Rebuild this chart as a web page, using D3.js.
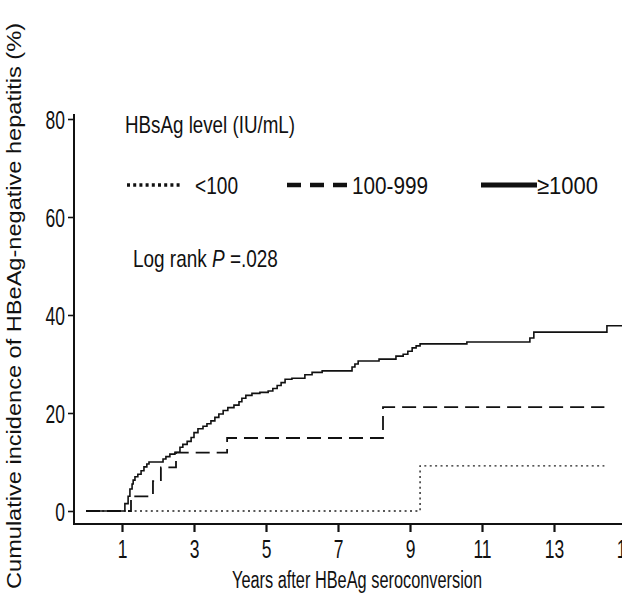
<!DOCTYPE html>
<html>
<head>
<meta charset="utf-8">
<script src="https://cdn.jsdelivr.net/npm/d3@7"></script>
<style>
  html, body { margin: 0; padding: 0; background: #fff; }
  svg { display: block; }
  text { font-family: "Liberation Sans", Arial, Helvetica, sans-serif; fill: #111; }
</style>
</head>
<body>
<svg id="chart" width="622" height="593"></svg>
<script>
// Kaplan-Meier style cumulative incidence, by HBsAg level group
const groupLabels = ["<100", "100-999", "\u22651000"];

// <100 IU/mL
const lowTimes = [0, 9.28];
const lowValues = [0, 9.2];
const lowEnd = 14.4;

// 100-999 IU/mL
const midTimes = [0, 1.25, 1.86, 2.08, 2.5, 3.92, 8.25];
const midValues = [0, 3.0, 6.1, 8.9, 11.9, 14.9, 21.2];
const midEnd = 14.4;

// >=1000 IU/mL
const highTimes = [0, 1.08, 1.17, 1.22, 1.28, 1.31, 1.36, 1.44, 1.53, 1.61, 1.69, 1.75,
  2.14, 2.22, 2.33, 2.47, 2.61, 2.69, 2.81, 2.92, 3.0, 3.11, 3.25, 3.36, 3.47, 3.58, 3.69,
  3.81, 3.94, 4.11, 4.25, 4.33, 4.44, 4.61, 4.83, 5.06, 5.19, 5.31, 5.42, 5.53, 5.72, 6.08,
  6.28, 6.56, 7.39, 7.47, 7.56, 8.14, 8.61, 8.81, 8.94, 9.06, 9.17, 9.28, 10.58, 12.33,
  12.44, 14.47];
const highValues = [0, 1.5, 3.0, 4.5, 5.5, 6.3, 7.0, 7.5, 8.2, 9.0, 9.6, 10.0,
  10.6, 11.1, 11.6, 12.0, 13.0, 13.6, 14.2, 15.0, 16.0, 16.8, 17.3, 17.8, 18.4, 19.1, 19.8,
  20.5, 21.1, 21.6, 22.3, 23.0, 23.6, 24.0, 24.2, 24.5, 25.0, 25.6, 26.2, 26.9, 27.1, 27.8,
  28.3, 28.6, 29.4, 30.0, 30.6, 31.0, 31.6, 32.0, 32.6, 33.3, 33.7, 34.1, 34.5, 35.3,
  36.5, 37.8];
const highEnd = 15.0;

const xTicks = [1, 3, 5, 7, 9, 11, 13, 15];
const yTicks = [0, 20, 40, 60, 80];

const svg = d3.select("#chart");

const x = d3.scaleLinear().domain([0, 15]).range([86, 626]);
const y = d3.scaleLinear().domain([0, 80]).range([511, 119]);

const axisX = 74, axisY = 524;
const narrow = 0.7;

// axis lines
svg.append("path")
  .attr("d", `M${axisX},114 V${axisY} H640`)
  .attr("fill", "none").attr("stroke", "#111").attr("stroke-width", 2);

// y axis ticks and labels
const gy = svg.append("g").attr("transform", `translate(${axisX},0)`)
  .call(d3.axisLeft(y).tickValues(yTicks).tickSize(6).tickFormat(d3.format("d")));
gy.select(".domain").remove();
gy.selectAll(".tick line").attr("stroke", "#111").attr("stroke-width", 1.6);
gy.selectAll(".tick text")
  .attr("font-family", null).attr("font-size", 25)
  .attr("x", -9 / narrow).attr("dy", "0.36em")
  .attr("transform", `scale(${narrow},1)`);

// x axis ticks and labels
const gx = svg.append("g").attr("transform", `translate(0,${axisY})`)
  .call(d3.axisBottom(x).tickValues(xTicks).tickSize(8).tickFormat(d3.format("d")));
gx.select(".domain").remove();
gx.selectAll(".tick line").attr("stroke", "#111").attr("stroke-width", 2.2);
gx.selectAll(".tick text")
  .attr("font-family", null).attr("font-size", 25)
  .attr("y", 34).attr("dy", 0)
  .attr("transform", `scale(${narrow},1)`);

// axis titles
svg.append("text")
  .attr("x", 357).attr("y", 588)
  .attr("text-anchor", "middle").attr("font-size", 23)
  .attr("textLength", 250).attr("lengthAdjust", "spacingAndGlyphs")
  .text("Years after HBeAg seroconversion");

svg.append("text")
  .attr("transform", "translate(21,306) rotate(-90)")
  .attr("text-anchor", "middle").attr("font-size", 20)
  .attr("textLength", 566).attr("lengthAdjust", "spacingAndGlyphs")
  .text("Cumulative incidence of HBeAg-negative hepatitis (%)");

// step curves
const line = d3.line()
  .x(d => x(d[0])).y(d => y(d[1]))
  .curve(d3.curveStepAfter);

function steps(times, values, end) {
  const pts = times.map((t, i) => [t, values[i]]);
  pts.push([end, values[values.length - 1]]);
  return pts;
}

svg.append("path")
  .attr("d", line(steps(lowTimes, lowValues, lowEnd)))
  .attr("fill", "none").attr("stroke", "#222").attr("stroke-width", 1.4)
  .attr("stroke-dasharray", "2,3.4");

svg.append("path")
  .attr("d", line(steps(midTimes, midValues, midEnd)))
  .attr("fill", "none").attr("stroke", "#111").attr("stroke-width", 1.8)
  .attr("stroke-dasharray", "14,7");

svg.append("path")
  .attr("d", line(steps(highTimes, highValues, highEnd)))
  .attr("fill", "none").attr("stroke", "#111").attr("stroke-width", 1.6);

// legend
svg.append("text")
  .attr("x", 125).attr("y", 133).attr("font-size", 24)
  .attr("textLength", 170).attr("lengthAdjust", "spacingAndGlyphs")
  .text("HBsAg level (IU/mL)");

const legendY = 185;
const legendItems = [
  { x0: 127, x1: 182, tx: 195, tw: 43, width: 3.5, dash: "3,3.2", label: groupLabels[0] },
  { x0: 287, x1: 348, tx: 352, tw: 76, width: 4.5, dash: "14,9", label: groupLabels[1] },
  { x0: 481, x1: 537, tx: 537, tw: 61, width: 5, dash: null, label: groupLabels[2] }
];
legendItems.forEach(it => {
  svg.append("line")
    .attr("x1", it.x0).attr("x2", it.x1).attr("y1", legendY).attr("y2", legendY)
    .attr("stroke", "#111").attr("stroke-width", it.width)
    .attr("stroke-dasharray", it.dash);
  svg.append("text")
    .attr("x", it.tx).attr("y", legendY + 9).attr("font-size", 24)
    .attr("textLength", it.tw).attr("lengthAdjust", "spacingAndGlyphs")
    .text(it.label);
});

// log-rank test annotation (condensed horizontally like the other labels)
const pText = svg.append("text")
  .attr("transform", "translate(133,267) scale(0.79,1)")
  .attr("font-size", 24);
pText.append("tspan").text("Log rank ");
pText.append("tspan").attr("font-style", "italic").text("P");
pText.append("tspan").text(" =.028");
</script>
</body>
</html>
